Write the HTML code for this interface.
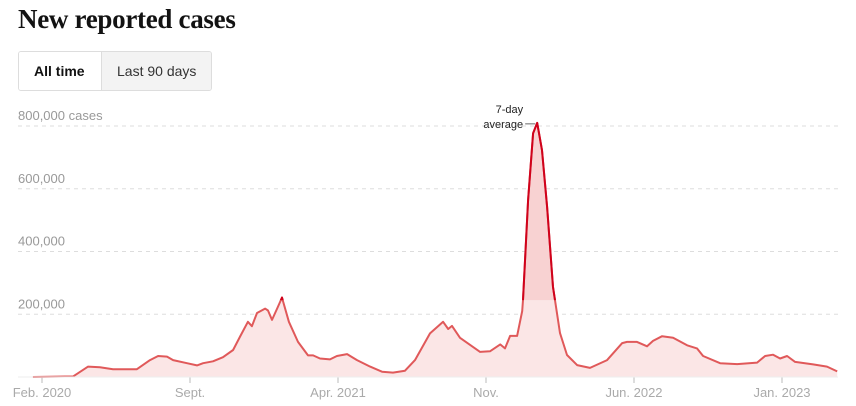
<!DOCTYPE html>
<html><head><meta charset="utf-8">
<style>
body{margin:0;background:#fff;width:856px;height:406px;overflow:hidden;font-family:"Liberation Sans",sans-serif;position:relative}
#title{position:absolute;left:18px;top:4px;font-family:"Liberation Serif",serif;font-weight:bold;font-size:27px;color:#121212;letter-spacing:-0.3px}
#btns{position:absolute;left:18px;top:51px;height:38px;border:1px solid #ddd;border-radius:3px;display:flex;overflow:hidden}
.btn{font-size:14px;line-height:38px;padding:0 15px;color:#333}
#b1{font-weight:bold;color:#121212;background:#fff;border-right:1px solid #ddd;width:52px}
#b2{background:#f3f3f3}
svg{position:absolute;left:0;top:0}
</style></head><body>
<div id="title">New reported cases</div>
<div id="btns">
<div class="btn" id="b1">All time</div>
<div class="btn" id="b2">Last 90 days</div>
</div>
<svg id="chart" width="856" height="406"></svg>
<script>
const months=[-0.43,1.47,2.18,2.74,3.36,4.49,5.11,5.49,5.91,6.20,6.86,7.33,7.62,8.09,8.56,9.04,9.37,9.74,9.93,10.17,10.55,10.69,10.88,11.12,11.35,11.68,12.11,12.58,12.82,13.15,13.62,13.95,14.43,14.90,15.52,16.08,16.60,17.17,17.64,18.35,18.97,19.21,19.39,19.77,20.72,21.19,21.67,21.90,22.14,22.47,22.71,22.75,22.99,23.23,23.42,23.65,23.89,24.17,24.50,24.83,25.31,25.92,26.73,27.44,27.67,28.14,28.62,28.90,29.33,29.85,30.51,30.98,31.27,32.07,32.88,33.82,34.20,34.58,34.91,35.24,35.62,36.47,37.13,37.61];
const cases=[0,2,33,31,25,25,54,67,65,54,44,37,44,50,63,86,129,176,162,204,218,212,182,218,253,176,112,69,69,59,56,67,73,54,33,17,14,20,54,139,176,153,163,125,80,82,104,91,131,131,210,245,564,777,810,723,542,287,140,70,38,29,54,108,112,112,98,115,130,125,101,91,67,44,41,46,67,71,59,67,48,40,33,18];
const yTicks=[200,400,600,800];
const yTickLabels=["200,000","400,000","600,000","800,000 cases"];
const xTickMonths=[0,7,14,21,28,35];
const xTickLabels=["Feb. 2020","Sept.","Apr. 2021","Nov.","Jun. 2022","Jan. 2023"];
const threshold=245;

const X=m=>42+m*148/7;
const Y=v=>377-v*251/800;
const svg=document.getElementById('chart');
const NS='http://www.w3.org/2000/svg';
function mk(t,a){const e=document.createElementNS(NS,t);for(const k in a)e.setAttribute(k,a[k]);svg.appendChild(e);return e;}

yTicks.forEach((v,i)=>{
  const g=mk('line',{x1:18,x2:838,y1:Y(v),y2:Y(v),stroke:'#ddd','stroke-dasharray':'4,4'});
  
  
  const t=mk('text',{x:18,y:Y(v)-6,'font-size':13,fill:'#999'});
  t.textContent=yTickLabels[i];
  
  
});
xTickMonths.forEach((m,i)=>{
  const l=mk('line',{x1:X(m),x2:X(m),y1:377,y2:383,stroke:'#bbb'});
  
  
  const t=mk('text',{x:X(m),y:397,'font-size':13,fill:'#aaa','text-anchor':'middle'});
  t.textContent=xTickLabels[i];
  
  
});
const pts=months.map((m,i)=>X(m).toFixed(1)+','+Y(cases[i]).toFixed(1));
const lineD='M'+pts.join('L');
const areaD=lineD+'L'+X(months[months.length-1])+',377L'+X(months[0])+',377Z';
const defs=mk('defs',{});
const cp=document.createElementNS(NS,'clipPath');cp.setAttribute('id','hi');
const cr=document.createElementNS(NS,'rect');cr.setAttribute('x',0);cr.setAttribute('y',0);cr.setAttribute('width',856);cr.setAttribute('height',Y(threshold));
cp.appendChild(cr);defs.appendChild(cp);
const a=mk('path',{d:areaD,fill:'#fbe6e6'});


const a2=mk('path',{d:areaD,fill:'#f8d2d2','clip-path':'url(#hi)'});


const ln=mk('path',{d:lineD,fill:'none',stroke:'#e0595a','stroke-width':2,'stroke-linejoin':'round'});


const ln2=mk('path',{d:lineD,fill:'none',stroke:'#d0021b','stroke-width':2,'stroke-linejoin':'round','clip-path':'url(#hi)'});


const base=mk('line',{x1:18,x2:838,y1:377,y2:377,stroke:'#eee'});


// annotation at peak
let pi=cases.indexOf(Math.max(...cases));
const px=X(months[pi]),py=Y(cases[pi]);
const al=mk('line',{x1:px-12,x2:px-2,y1:py+1,y2:py+1,stroke:'#666'});


[['7-day',py-10],['average',py+5]].forEach(([s,y])=>{
  const t=mk('text',{x:px-14,y:y,'font-size':11,fill:'#222','text-anchor':'end'});
  t.textContent=s;
  
  
});
</script>
</body></html>
